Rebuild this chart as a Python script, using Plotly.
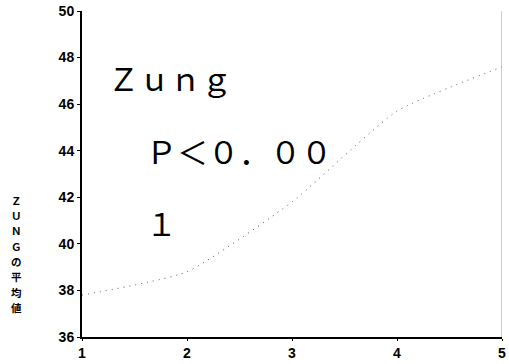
import plotly.graph_objects as go

x_vals = [1, 2, 3, 4, 5]
zung_mean = [37.8, 38.8, 41.8, 45.7, 47.6]
y_ticks = [36, 38, 40, 42, 44, 46, 48, 50]
x_ticks = [1, 2, 3, 4, 5]
y_title_chars = ["Ｚ", "Ｕ", "Ｎ", "Ｇ", "の", "平", "均", "値"]
note_lines = ["Ｚｕｎｇ", "Ｐ＜０．００", "１"]

W, H = 509, 364
L, R, T, B = 82, 3, 10, 23
pw, ph = W - L - R, H - T - B

def px_to_paper_x(px):
    return (px - L) / pw

def px_to_paper_y(py):
    return 1 - (py - T) / ph

fig = go.Figure()
fig.add_trace(go.Scatter(
    x=x_vals, y=zung_mean, mode="lines",
    line=dict(color="#555555", width=1, dash="1px,5px", shape="spline", smoothing=0.5),
    showlegend=False, hoverinfo="skip",
))

tick_font = dict(family="Liberation Sans, Arial, sans-serif", size=14, color="black")
fig.update_layout(
    width=W, height=H,
    margin=dict(l=L, r=R, t=T, b=B),
    paper_bgcolor="white", plot_bgcolor="white",
    xaxis=dict(range=[1, 5], tickvals=x_ticks, ticktext=[f"<b>{v}</b>" for v in x_ticks],
               showgrid=False, zeroline=False, showline=True, linecolor="black", linewidth=2,
               ticks="outside", ticklen=2, tickcolor="black", tickfont=tick_font,
               ticklabeloverflow="allow"),
    yaxis=dict(range=[36, 50], tickvals=y_ticks, ticktext=[f"<b>{v}</b>" for v in y_ticks],
               showgrid=False, zeroline=False, showline=True, linecolor="black", linewidth=2,
               ticks="outside", ticklen=3, tickcolor="black", tickfont=tick_font,
               ticklabeloverflow="allow"),
)

# right-side faint frame line
fig.add_shape(type="line", xref="x", yref="y", x0=5, x1=5, y0=36, y1=50,
              line=dict(color="#999999", width=1))

jp_font = "Noto Sans CJK JP, sans-serif"
y0_px, step_px = 202, 15.6
for i, c in enumerate(y_title_chars):
    fig.add_annotation(xref="paper", yref="paper",
                       x=px_to_paper_x(16), y=px_to_paper_y(y0_px + i * step_px),
                       text=f"<b>{c}</b>", showarrow=False,
                       xanchor="center", yanchor="middle", borderpad=0,
                       font=dict(family=jp_font, size=10.5, color="black"))

note_pos = [(106, 78), (145, 152), (145, 225)]
for txt, (px, py) in zip(note_lines, note_pos):
    fig.add_annotation(xref="paper", yref="paper",
                       x=px_to_paper_x(px), y=px_to_paper_y(py),
                       text=txt, showarrow=False, xanchor="left", yanchor="middle",
                       font=dict(family=jp_font, size=31, color="black"))

fig.write_html("out.html")
